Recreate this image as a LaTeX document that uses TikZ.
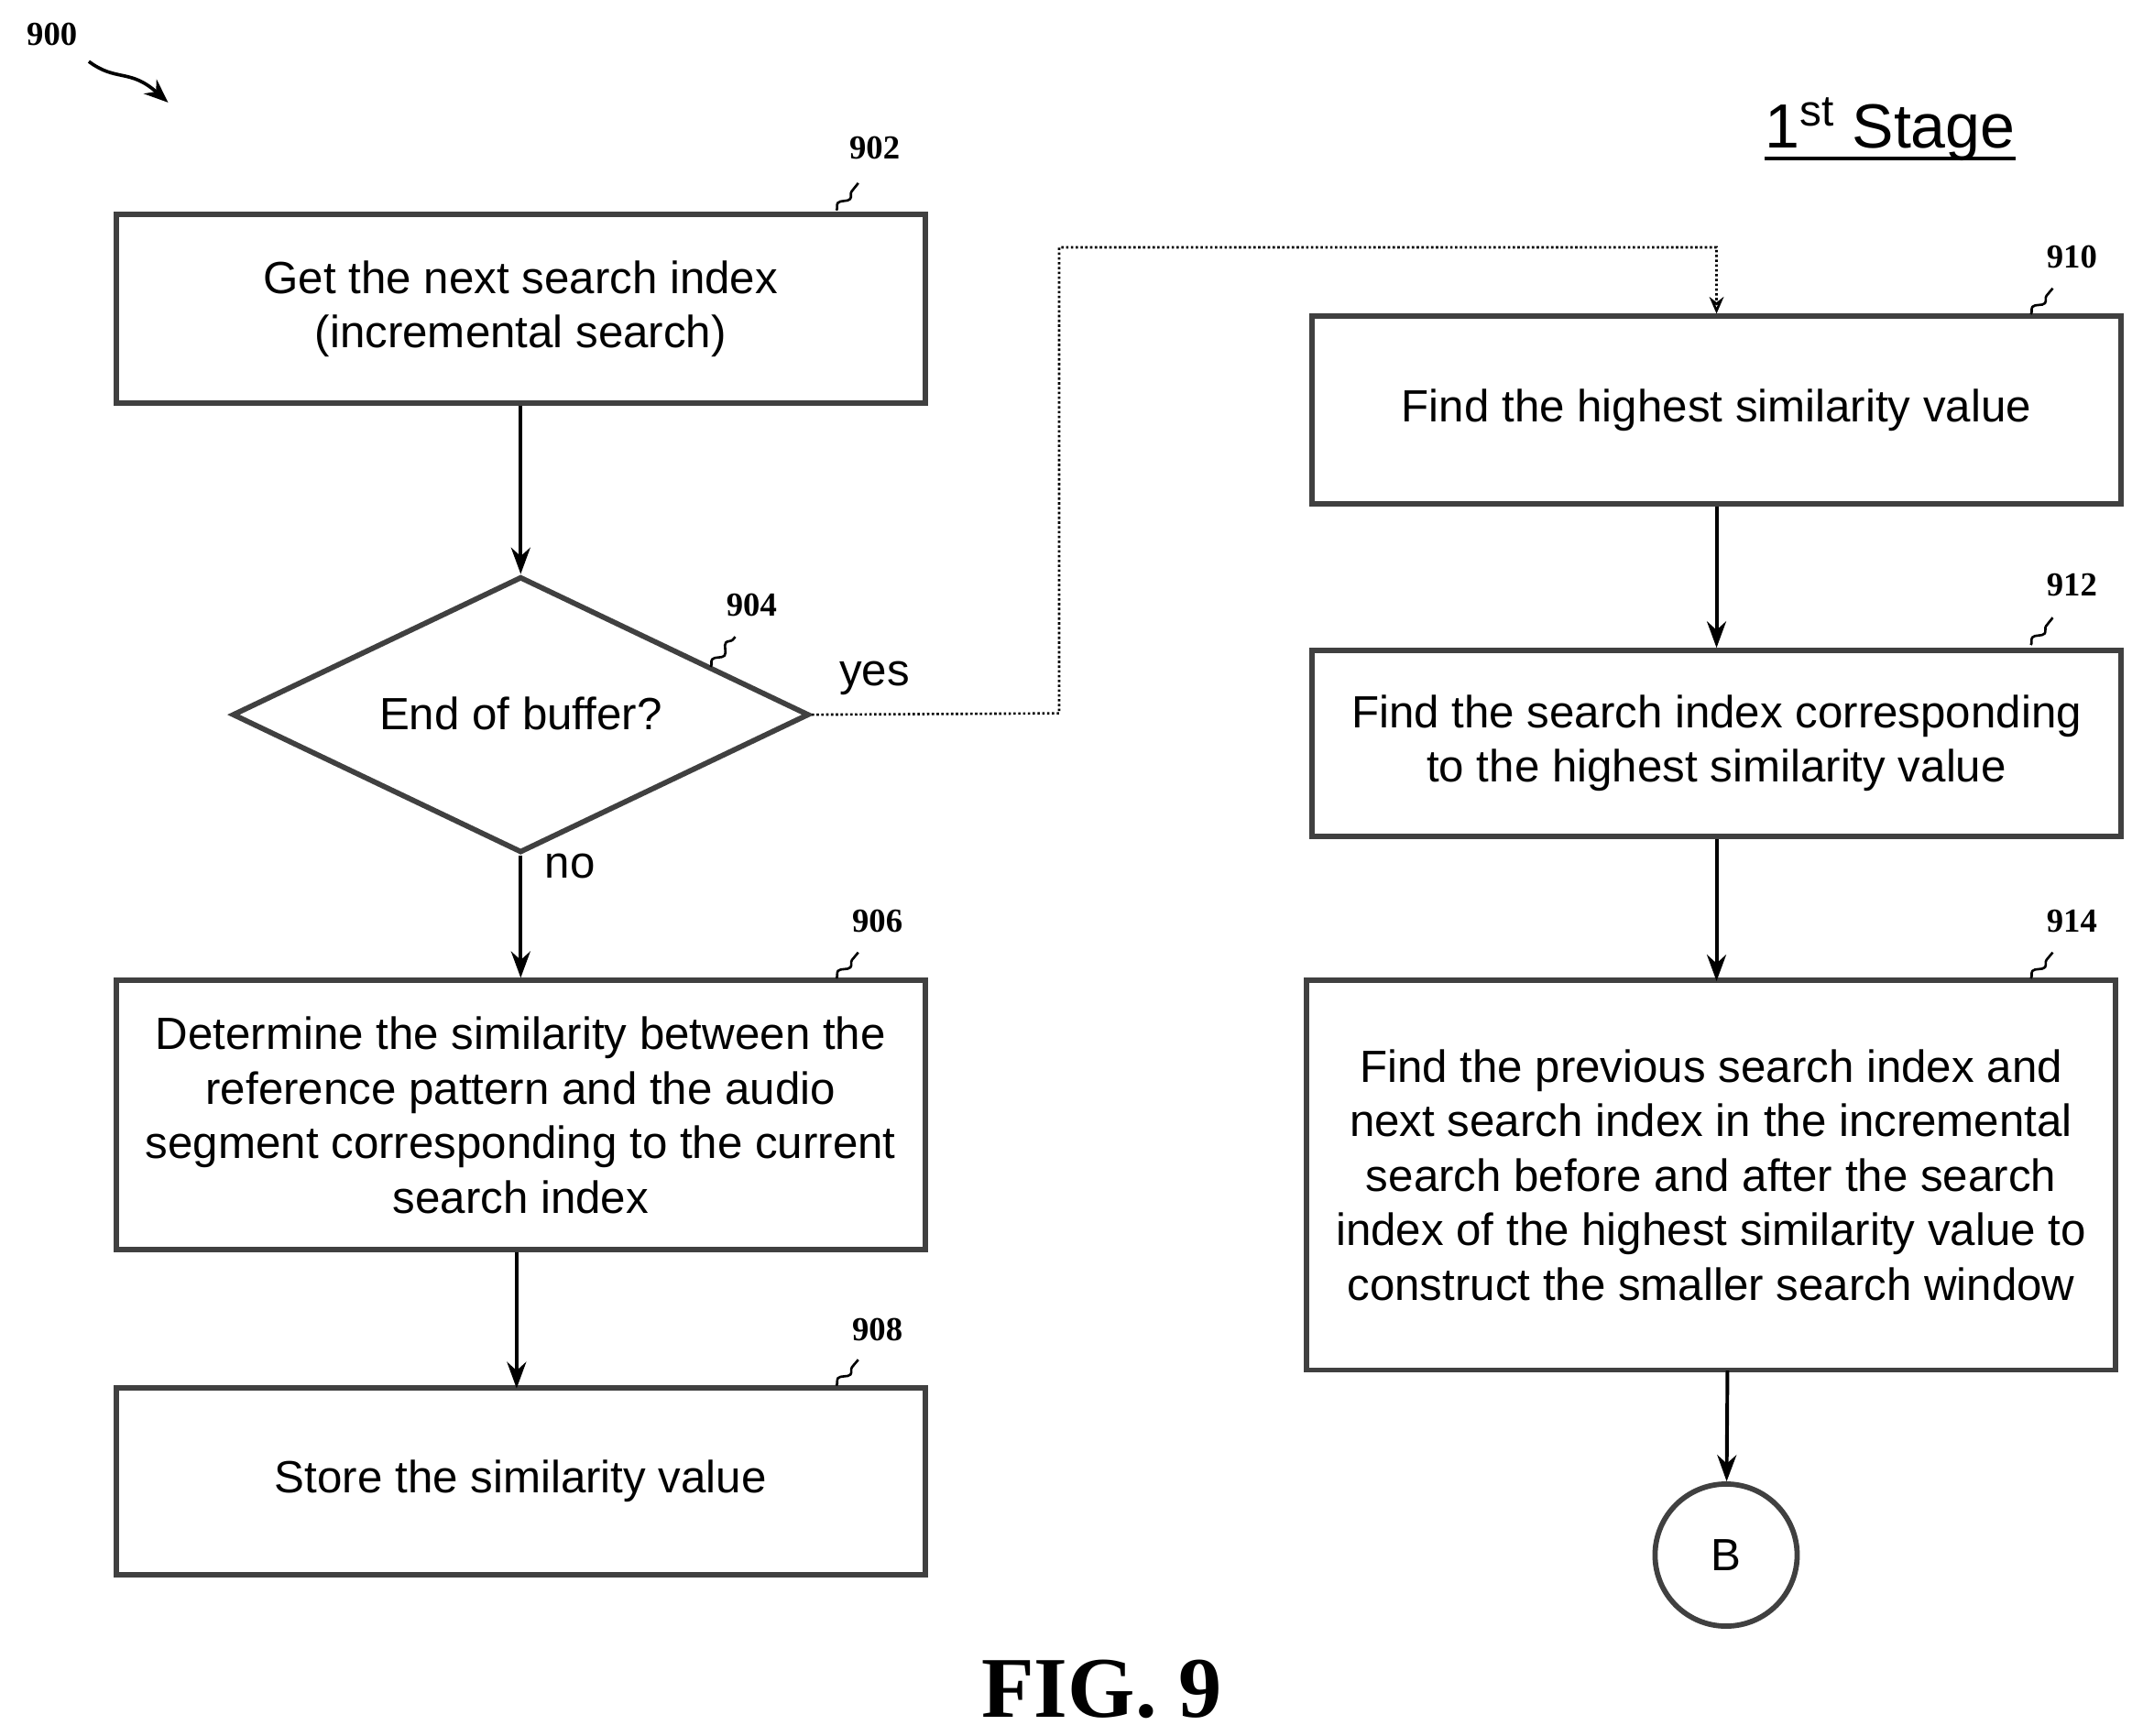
\documentclass[tikz,border=0pt]{standalone}
\usepackage{fontspec}
\setmainfont{Liberation Sans}
\newfontfamily\serifb{Liberation Serif}
\usetikzlibrary{shapes.geometric,arrows.meta,decorations.pathmorphing}
\begin{document}
\begin{tikzpicture}[x=0.02cm,y=-0.02cm,
 box/.style={draw=black!75,line width=2.2pt,inner sep=0pt,align=center,font=\fontsize{18.8}{22.7}\selectfont},
 lbl/.style={font=\serifb\bfseries\fontsize{14}{16}\selectfont},
 arr/.style={-{Stealth[length=11pt,width=8pt]},line width=1.5pt},
 sq/.style={line width=1pt,decorate,decoration={snake,amplitude=1.5pt,segment length=9pt}}]
\useasboundingbox (0,0) rectangle (1560,1270);
\node[box,minimum width=592*0.02cm,minimum height=138*0.02cm] (n902) at (381,226) {Get the next search index\\(incremental search)};
\node[box,diamond,aspect=2.09,minimum width=422*0.02cm,minimum height=202*0.02cm] (n904) at (381,523) {};
\node[font=\fontsize{18.8}{22.7}\selectfont] at (381,522) {End of buffer?};
\node[box,minimum width=592*0.02cm,minimum height=197*0.02cm] (n906) at (381,816) {Determine the similarity between the\\reference pattern and the audio\\segment corresponding to the current\\search index};
\node[box,minimum width=592*0.02cm,minimum height=137*0.02cm] (n908) at (381,1084) {Store the similarity value};
\node[box,minimum width=592*0.02cm,minimum height=137*0.02cm] (n910) at (1256,300) {Find the highest similarity value};
\node[box,minimum width=592*0.02cm,minimum height=136*0.02cm] (n912) at (1256,544) {Find the search index corresponding\\to the highest similarity value};
\node[box,minimum width=592*0.02cm,minimum height=285*0.02cm] (n914) at (1252,860) {Find the previous search index and\\next search index in the incremental\\search before and after the search\\index of the highest similarity value to\\construct the smaller search window};
\node[box,circle,minimum size=104*0.02cm] (B) at (1263,1138) {B};
\draw[arr] (n902) -- (n904.north);
\draw[arr] (n904.south) -- (n906);
\draw[arr] (n906.south -| 378,0) -- (378,1016);
\draw[arr] (n910) -- (n912);
\draw[arr] (n912) -- (1256,718);
\draw[arr] (1264,1003) -- (B);
\coordinate (c1) at (775,522); \coordinate (c2) at (775,181); \coordinate (c3) at (1256,181);
\draw[densely dotted,line width=1pt,-{Stealth[open,length=7pt,width=6pt]}] (n904.east) -- (c1) -- (c2) -- (c3) -- (n910.north);
\node[font=\fontsize{18.8}{22}\selectfont] at (640,496) {yes};
\node[font=\fontsize{18.8}{22}\selectfont] at (417,634) {no};
\node[lbl] at (640,108) {902}; \draw[sq] (612,154) -- (628,134);
\node[lbl] at (550,443) {904}; \draw[sq] (520,488) -- (538,466);
\node[lbl] at (642,674) {906}; \draw[sq] (612,716) -- (628,697);
\node[lbl] at (642,973) {908}; \draw[sq] (612,1014) -- (628,995);
\node[lbl] at (1516,188) {910}; \draw[sq] (1486,230) -- (1502,211);
\node[lbl] at (1516,428) {912}; \draw[sq] (1486,472) -- (1502,452);
\node[lbl] at (1516,674) {914}; \draw[sq] (1486,716) -- (1502,697);
\node[lbl] at (38,25) {900};
\draw[line width=1.4pt,-{Stealth[length=10pt,width=8pt]}] (65,45) .. controls (85,60) and (95,50) .. (123,75);
\node[font=\fontsize{26}{30}\selectfont,anchor=base,inner sep=0pt] (st) at (1383,108) {1\textsuperscript{st} Stage};
\draw[line width=1.5pt] (st.west |- 0,116) -- (st.east |- 0,116);
\node[font=\serifb\bfseries\fontsize{36}{40}\selectfont] at (806,1236) {FIG. 9};
\end{tikzpicture}
\end{document}
